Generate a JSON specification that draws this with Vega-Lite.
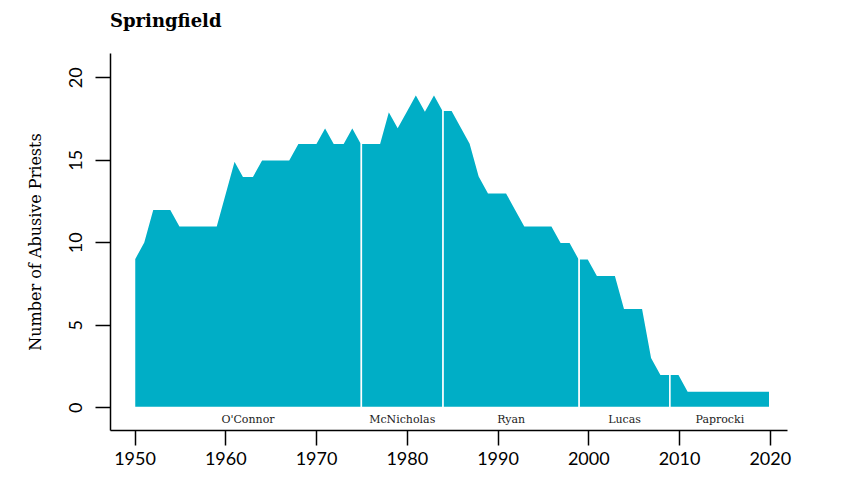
{
  "$schema": "https://vega.github.io/schema/vega-lite/v6.json",
  "autosize": {"type": "none"},
  "width": 677,
  "height": 377,
  "padding": {"left": 110, "top": 53, "right": 78, "bottom": 70},
  "background": "white",
  "title": {
    "text": "Springfield",
    "anchor": "start",
    "frame": "group",
    "font": "DejaVu Serif",
    "fontSize": 18,
    "fontWeight": "bold",
    "color": "black",
    "offset": 22
  },
  "config": {
    "view": {"stroke": null},
    "axis": {"grid": false}
  },
  "data": {
    "values": [
      {"year": 1950, "n": 9, "bishop": "O'Connor"},
      {"year": 1951, "n": 10, "bishop": "O'Connor"},
      {"year": 1952, "n": 12, "bishop": "O'Connor"},
      {"year": 1953, "n": 12, "bishop": "O'Connor"},
      {"year": 1954, "n": 12, "bishop": "O'Connor"},
      {"year": 1955, "n": 11, "bishop": "O'Connor"},
      {"year": 1956, "n": 11, "bishop": "O'Connor"},
      {"year": 1957, "n": 11, "bishop": "O'Connor"},
      {"year": 1958, "n": 11, "bishop": "O'Connor"},
      {"year": 1959, "n": 11, "bishop": "O'Connor"},
      {"year": 1960, "n": 13, "bishop": "O'Connor"},
      {"year": 1961, "n": 15, "bishop": "O'Connor"},
      {"year": 1962, "n": 14, "bishop": "O'Connor"},
      {"year": 1963, "n": 14, "bishop": "O'Connor"},
      {"year": 1964, "n": 15, "bishop": "O'Connor"},
      {"year": 1965, "n": 15, "bishop": "O'Connor"},
      {"year": 1966, "n": 15, "bishop": "O'Connor"},
      {"year": 1967, "n": 15, "bishop": "O'Connor"},
      {"year": 1968, "n": 16, "bishop": "O'Connor"},
      {"year": 1969, "n": 16, "bishop": "O'Connor"},
      {"year": 1970, "n": 16, "bishop": "O'Connor"},
      {"year": 1971, "n": 17, "bishop": "O'Connor"},
      {"year": 1972, "n": 16, "bishop": "O'Connor"},
      {"year": 1973, "n": 16, "bishop": "O'Connor"},
      {"year": 1974, "n": 17, "bishop": "O'Connor"},
      {"year": 1975, "n": 16, "bishop": "O'Connor"},
      {"year": 1975, "n": 16, "bishop": "McNicholas"},
      {"year": 1976, "n": 16, "bishop": "McNicholas"},
      {"year": 1977, "n": 16, "bishop": "McNicholas"},
      {"year": 1978, "n": 18, "bishop": "McNicholas"},
      {"year": 1979, "n": 17, "bishop": "McNicholas"},
      {"year": 1980, "n": 18, "bishop": "McNicholas"},
      {"year": 1981, "n": 19, "bishop": "McNicholas"},
      {"year": 1982, "n": 18, "bishop": "McNicholas"},
      {"year": 1983, "n": 19, "bishop": "McNicholas"},
      {"year": 1984, "n": 18, "bishop": "McNicholas"},
      {"year": 1984, "n": 18, "bishop": "Ryan"},
      {"year": 1985, "n": 18, "bishop": "Ryan"},
      {"year": 1986, "n": 17, "bishop": "Ryan"},
      {"year": 1987, "n": 16, "bishop": "Ryan"},
      {"year": 1988, "n": 14, "bishop": "Ryan"},
      {"year": 1989, "n": 13, "bishop": "Ryan"},
      {"year": 1990, "n": 13, "bishop": "Ryan"},
      {"year": 1991, "n": 13, "bishop": "Ryan"},
      {"year": 1992, "n": 12, "bishop": "Ryan"},
      {"year": 1993, "n": 11, "bishop": "Ryan"},
      {"year": 1994, "n": 11, "bishop": "Ryan"},
      {"year": 1995, "n": 11, "bishop": "Ryan"},
      {"year": 1996, "n": 11, "bishop": "Ryan"},
      {"year": 1997, "n": 10, "bishop": "Ryan"},
      {"year": 1998, "n": 10, "bishop": "Ryan"},
      {"year": 1999, "n": 9, "bishop": "Ryan"},
      {"year": 1999, "n": 9, "bishop": "Lucas"},
      {"year": 2000, "n": 9, "bishop": "Lucas"},
      {"year": 2001, "n": 8, "bishop": "Lucas"},
      {"year": 2002, "n": 8, "bishop": "Lucas"},
      {"year": 2003, "n": 8, "bishop": "Lucas"},
      {"year": 2004, "n": 6, "bishop": "Lucas"},
      {"year": 2005, "n": 6, "bishop": "Lucas"},
      {"year": 2006, "n": 6, "bishop": "Lucas"},
      {"year": 2007, "n": 3, "bishop": "Lucas"},
      {"year": 2008, "n": 2, "bishop": "Lucas"},
      {"year": 2009, "n": 2, "bishop": "Lucas"},
      {"year": 2009, "n": 2, "bishop": "Paprocki"},
      {"year": 2010, "n": 2, "bishop": "Paprocki"},
      {"year": 2011, "n": 1, "bishop": "Paprocki"},
      {"year": 2012, "n": 1, "bishop": "Paprocki"},
      {"year": 2013, "n": 1, "bishop": "Paprocki"},
      {"year": 2014, "n": 1, "bishop": "Paprocki"},
      {"year": 2015, "n": 1, "bishop": "Paprocki"},
      {"year": 2016, "n": 1, "bishop": "Paprocki"},
      {"year": 2017, "n": 1, "bishop": "Paprocki"},
      {"year": 2018, "n": 1, "bishop": "Paprocki"},
      {"year": 2019, "n": 1, "bishop": "Paprocki"},
      {"year": 2020, "n": 1, "bishop": "Paprocki"}
    ]
  },
  "layer": [
    {
      "mark": {"type": "area", "fill": "#00AEC6", "stroke": "white", "strokeWidth": 1.5, "interpolate": "linear"},
      "encoding": {
        "x": {
          "field": "year", "type": "quantitative",
          "scale": {"domain": [1947.3, 2021.9], "nice": false, "zero": false},
          "axis": {
            "values": [1950, 1960, 1970, 1980, 1990, 2000, 2010, 2020],
            "format": "d", "title": null,
            "domainColor": "black", "domainWidth": 1.5,
            "tickColor": "black", "tickWidth": 1.5, "tickSize": 15,
            "labelFont": "Lato", "labelFontSize": 18, "labelColor": "black",
            "labelPadding": 5, "labelFlush": false
          }
        },
        "y": {
          "field": "n", "type": "quantitative", "stack": null,
          "scale": {"domain": [-1.37, 21.47], "nice": false, "zero": false},
          "axis": {
            "values": [0, 5, 10, 15, 20],
            "title": "Number of Abusive Priests",
            "titleFont": "DejaVu Serif", "titleFontSize": 16, "titleFontWeight": "normal",
            "titleColor": "black", "titlePadding": 24,
            "domainColor": "black", "domainWidth": 1.5,
            "tickColor": "black", "tickWidth": 1.5, "tickSize": 15,
            "labelFont": "Lato", "labelFontSize": 18, "labelColor": "black",
            "labelAngle": -90, "labelAlign": "center", "labelBaseline": "bottom",
            "labelPadding": 10, "labelFlush": false
          }
        },
        "detail": {"field": "bishop"}
      }
    },
    {
      "mark": {"type": "text", "font": "DejaVu Serif", "fontSize": 11, "color": "#222222", "baseline": "middle", "align": "center"},
      "encoding": {
        "x": {"aggregate": "mean", "field": "year", "type": "quantitative"},
        "y": {"datum": -0.75},
        "text": {"field": "bishop"},
        "detail": {"field": "bishop"}
      }
    }
  ]
}
